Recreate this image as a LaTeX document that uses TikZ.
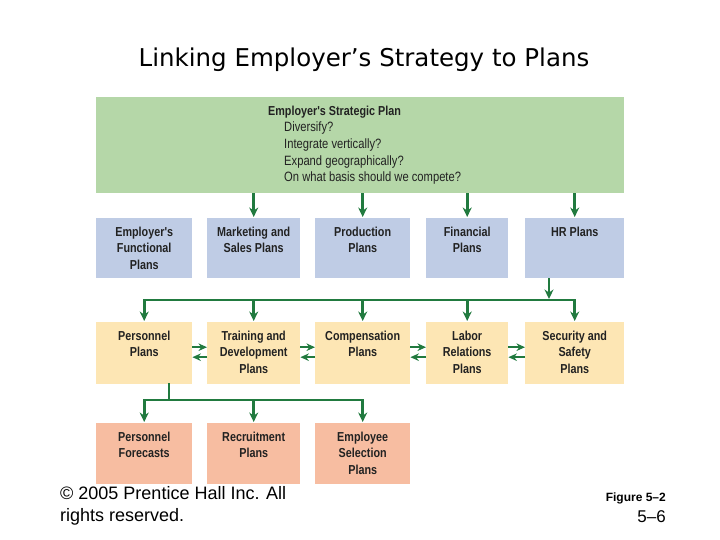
\documentclass[tikz,border=0pt]{standalone}
\usepackage{fontspec}
\setmainfont{Liberation Sans}
\newfontfamily\boxfont[FakeStretch=0.83]{Liberation Sans}
\newfontfamily\titlefont{DejaVu Sans}
\usetikzlibrary{arrows.meta, calc}

\definecolor{stratgreen}{HTML}{B5D7A8}
\definecolor{funcblue}{HTML}{BFCCE5}
\definecolor{hryellow}{HTML}{FDE6B4}
\definecolor{subsalmon}{HTML}{F7BDA1}
\definecolor{arrowgreen}{HTML}{217A3F}
\definecolor{labelgray}{HTML}{222222}

% box body: width, height, text (top aligned)
\newcommand{\planbox}[3]{\parbox[c][#2pt][t]{#1pt}{\centering\vspace*{8.5pt}#3}}

\begin{document}
\begin{tikzpicture}[x=1pt, y=-1pt]
\tikzset{PlanStyle/.style = {anchor=north west, fill=#1, inner sep=0pt, text=labelgray,
    font=\boxfont\bfseries\fontsize{13}{16.5}\selectfont},
  Link/.style = {draw=arrowgreen, line width=2.6pt, line cap=rect},
  LinkArrow/.style = {draw=arrowgreen, line width=2.6pt, shorten >=1pt, -{Stealth[length=9.5pt, width=9pt]}},
  SideArrow/.style = {draw=arrowgreen, line width=2pt, -{Stealth[length=8.5pt, width=7.5pt]}}
}

    \useasboundingbox (0,0) rectangle (720,540);

    % Title
    \node[font=\titlefont\fontsize{24.5}{28}\selectfont, anchor=base] (title) at (364,67) {Linking Employer’s Strategy to Plans};

    % Strategic plan
    \node[PlanStyle=stratgreen] (strategic) at (96,97) {\parbox[c][96pt][t]{528pt}{\raggedright\leftskip=172pt\vspace*{8.5pt}%
        Employer's Strategic Plan\\ \mdseries\fontsize{13.5}{16.7}\selectfont
        \hspace*{16pt}Diversify?\\
        \hspace*{16pt}Integrate vertically?\\
        \hspace*{16pt}Expand geographically?\\
        \hspace*{16pt}On what basis should we compete?}};

    % Functional plans
    \node[PlanStyle=funcblue] (func) at (96,218)  {\planbox{96}{60}{Employer's\\Functional\\Plans}};
    \node[PlanStyle=funcblue] (mkt)  at (207,218) {\planbox{93}{60}{Marketing and\\Sales Plans}};
    \node[PlanStyle=funcblue] (prod) at (315,218) {\planbox{95}{60}{Production\\Plans}};
    \node[PlanStyle=funcblue] (fin)  at (426,218) {\planbox{82}{60}{Financial\\Plans}};
    \node[PlanStyle=funcblue] (hr)   at (525,218) {\planbox{99}{60}{HR Plans}};

    % HR plans
    \node[PlanStyle=hryellow] (pers)  at (96,322)  {\planbox{96}{62}{Personnel\\Plans}};
    \node[PlanStyle=hryellow] (train) at (207,322) {\planbox{93}{62}{Training and\\Development\\Plans}};
    \node[PlanStyle=hryellow] (comp)  at (315,322) {\planbox{95}{62}{Compensation\\Plans}};
    \node[PlanStyle=hryellow] (labor) at (426,322) {\planbox{82}{62}{Labor\\Relations\\Plans}};
    \node[PlanStyle=hryellow] (safe)  at (525,322) {\planbox{99}{62}{Security and\\Safety\\Plans}};

    % Personnel plans
    \node[PlanStyle=subsalmon] (fcst)   at (96,423)  {\planbox{96}{61}{Personnel\\Forecasts}};
    \node[PlanStyle=subsalmon] (recr)   at (207,423) {\planbox{93}{61}{Recruitment\\Plans}};
    \node[PlanStyle=subsalmon] (select) at (315,423) {\planbox{95}{61}{Employee\\Selection\\Plans}};

    % Strategy down to functional plans
    \foreach \n in {mkt, prod, fin, hr}
        \draw[LinkArrow] (strategic.south -| \n.north) -- (\n.north);

    % HR plans down to the bus
    \coordinate (busA) at (0,300);
    \coordinate (hrdrop) at (549,300);
    \draw[LinkArrow] (hr.south -| hrdrop) -- (hrdrop);
    \draw[Link] (pers.north |- busA) -- (safe.north |- busA);
    \foreach \n in {pers, train, comp, labor, safe}
        \draw[LinkArrow] (\n.north |- busA) -- (\n.north);

    % two way links
    \foreach \a/\b in {pers/train, train/comp, comp/labor, labor/safe} {
        \draw[SideArrow] ([yshift=6pt]\a.east) -- ([yshift=6pt]\b.west);
        \draw[SideArrow] ([yshift=-4pt]\b.west) -- ([yshift=-4pt]\a.east);
    }

    % Personnel plans down
    \coordinate (busB) at (0,400);
    \coordinate (persdrop) at (169,400);
    \draw[Link] (pers.south -| persdrop) -- (persdrop);
    \draw[Link] (fcst.north |- busB) -- (select.north |- busB);
    \foreach \n in {fcst, recr, select}
        \draw[LinkArrow] (\n.north |- busB) -- (\n.north);

    % Footer
    \node[anchor=north west, align=left, inner sep=0pt, font=\fontsize{18}{22}\selectfont] (rights) at (60,486) {© 2005 Prentice Hall Inc. All\\rights reserved.};
    \node[anchor=base east, inner sep=0pt, font=\bfseries\fontsize{12}{14}\selectfont] (figno) at (666,501) {Figure 5–2};
    \node[anchor=base east, inner sep=0pt, font=\fontsize{17}{20}\selectfont] (pageno) at (666,522) {5–6};
\end{tikzpicture}
\end{document}
